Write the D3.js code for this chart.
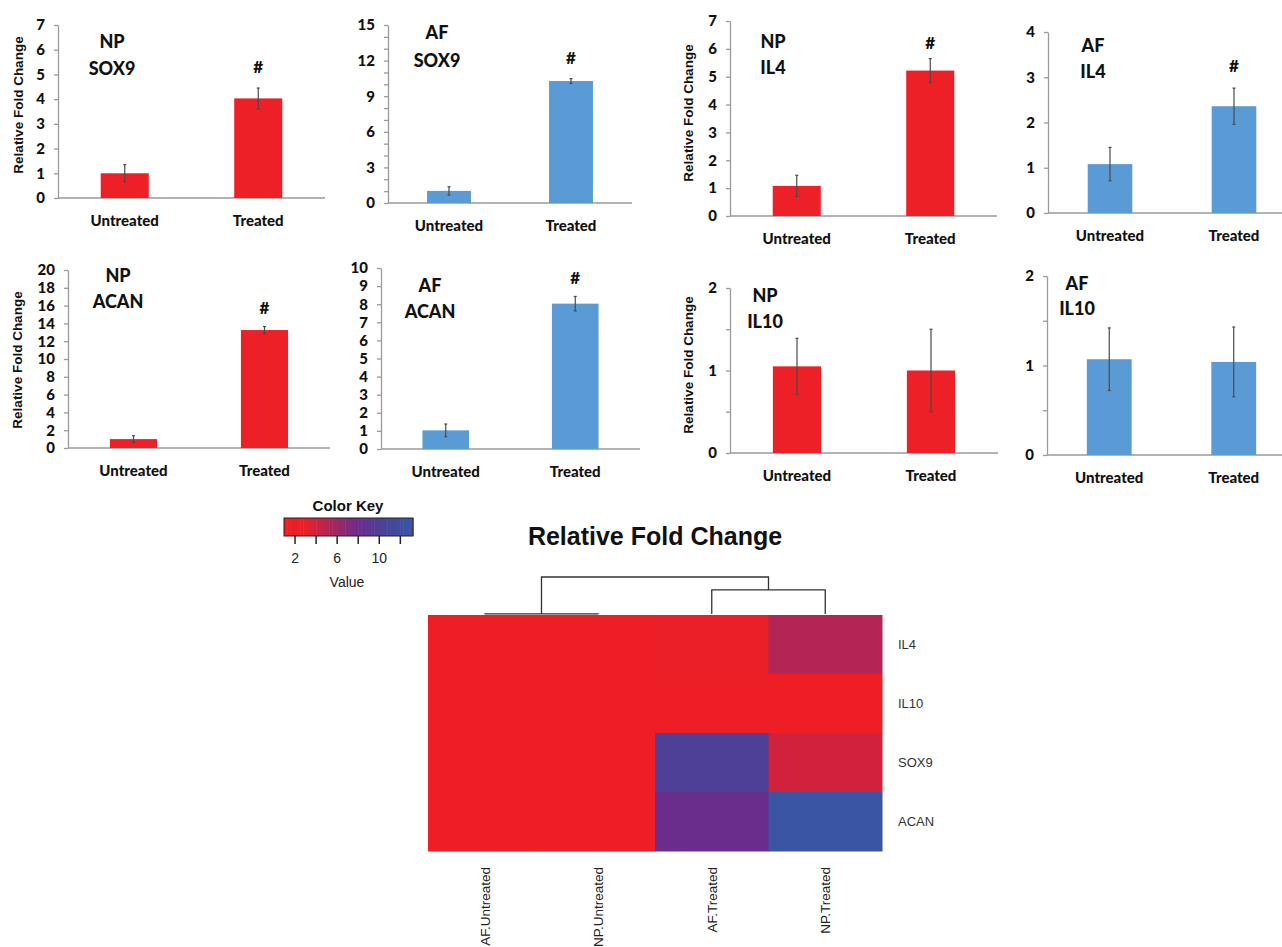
<!DOCTYPE html>
<html>
<head>
<meta charset="utf-8">
<script src="https://cdn.jsdelivr.net/npm/d3@7"></script>
<style>
  body { margin: 0; background: #fff; }
  svg { display: block; }
</style>
</head>
<body>
<div id="chart-area"></div>
<script>
// bar chart data
var conditions = ["Untreated", "Treated"];
var tissues = ["NP", "AF", "NP", "AF", "NP", "AF", "NP", "AF"];
var genes = ["SOX9", "SOX9", "IL4", "IL4", "ACAN", "ACAN", "IL10", "IL10"];
var meanFold = [[1.0, 4.03], [1.02, 10.28], [1.08, 5.22], [1.08, 2.36],
                [1.0, 13.25], [1.03, 8.03], [1.05, 1.0], [1.07, 1.04]];
var errFold = [[0.35, 0.42], [0.35, 0.2], [0.38, 0.43], [0.37, 0.4],
               [0.38, 0.4], [0.35, 0.4], [0.34, 0.5], [0.35, 0.39]];
var significant = [true, true, true, true, true, true, false, false];
var yMaxes = [7, 15, 7, 4, 20, 10, 2, 2];
var yTickSteps = [1, 1, 1, 1, 2, 1, 0.5, 0.5];
var yLabelSteps = [1, 3, 1, 1, 2, 1, 1, 1];

// heatmap data
var heatRows = ["IL4", "IL10", "SOX9", "ACAN"];
var heatCols = ["AF.Untreated", "NP.Untreated", "AF.Treated", "NP.Treated"];
var heatValues = [
  [1.08, 1.08, 2.36, 5.22],
  [1.07, 1.05, 1.04, 1.0],
  [1.02, 1.0, 10.28, 4.03],
  [1.03, 1.0, 8.03, 13.25]
];
var keyTicks = [2, 4, 6, 8, 10, 12];
var keyTickLabels = [2, 6, 10];

var barColors = { NP: "#ed1f27", AF: "#5b9bd5" };

// panel placement
var layout = [
  { x0: 58, x1: 325, y0: 25, y1: 198, ylabX: 18, ylabY: 105, tx: 112, ty: [48, 75], hy: 73 },
  { x0: 388, x1: 632, y0: 25, y1: 203, ylabX: null, tx: 437, ty: [39, 67], hy: 64 },
  { x0: 730, x1: 997, y0: 21, y1: 216, ylabX: 688, ylabY: 113, tx: 773, ty: [48, 74], hy: 49 },
  { x0: 1048, x1: 1296, y0: 32, y1: 213, ylabX: null, tx: 1093, ty: [52, 78], hy: 72 },
  { x0: 68, x1: 330, y0: 270, y1: 448, ylabX: 17, ylabY: 360, tx: 118, ty: [282, 308], hy: 314 },
  { x0: 381, x1: 640, y0: 268, y1: 449, ylabX: null, tx: 430, ty: [292, 318], hy: 284 },
  { x0: 730, x1: 998, y0: 288, y1: 453, ylabX: 688, ylabY: 365, tx: 765, ty: [302, 328], hy: null },
  { x0: 1047, x1: 1296, y0: 276, y1: 455, ylabX: null, tx: 1077, ty: [290, 315], hy: null }
];

var barFont = "Lato, 'Open Sans', sans-serif";
var arial = "'Liberation Sans', Arial, sans-serif";

var svg = d3.select("#chart-area")
  .append("svg")
  .attr("width", 1282)
  .attr("height", 947);

layout.forEach(function (L, p) {
  var g = svg.append("g");

  var x = d3.scaleBand()
    .domain(conditions)
    .range([L.x0, L.x1])
    .paddingInner(0.64)
    .paddingOuter(0.32);

  var y = d3.scaleLinear()
    .domain([0, yMaxes[p]])
    .range([L.y1, L.y0]);

  var tickVals = d3.range(0, yMaxes[p] + 1e-9, yTickSteps[p]);
  var yAxisCall = d3.axisLeft(y)
    .tickValues(tickVals)
    .tickSize(4)
    .tickSizeOuter(0)
    .tickPadding(9)
    .tickFormat(function (d) {
      var r = d / yLabelSteps[p];
      return Math.abs(r - Math.round(r)) < 1e-6 ? d : "";
    });

  var ya = g.append("g")
    .attr("transform", "translate(" + L.x0 + ",0)")
    .call(yAxisCall);
  ya.selectAll("path, line").attr("stroke", "#9a9a9a").attr("stroke-width", 1.3);
  ya.selectAll("text")
    .attr("font-family", barFont)
    .attr("font-weight", "900")
    .attr("font-size", "15px")
    .attr("fill", "#111");

  // x baseline
  g.append("line")
    .attr("x1", L.x0).attr("x2", L.x1)
    .attr("y1", L.y1).attr("y2", L.y1)
    .attr("stroke", "#9a9a9a")
    .attr("stroke-width", 1.3);

  var data = conditions.map(function (c, i) {
    return { cond: c, v: meanFold[p][i], e: errFold[p][i] };
  });

  g.selectAll("rect.bar")
    .data(data)
    .enter()
    .append("rect")
    .attr("class", "bar")
    .attr("x", function (d) { return x(d.cond); })
    .attr("y", function (d) { return y(d.v); })
    .attr("width", x.bandwidth())
    .attr("height", function (d) { return L.y1 - y(d.v); })
    .attr("fill", barColors[tissues[p]]);

  // error bars
  var eb = g.selectAll("g.err")
    .data(data)
    .enter()
    .append("g")
    .attr("class", "err")
    .attr("stroke", "#4a4a4a")
    .attr("stroke-width", 1.2);
  eb.append("line")
    .attr("x1", function (d) { return x(d.cond) + x.bandwidth() / 2; })
    .attr("x2", function (d) { return x(d.cond) + x.bandwidth() / 2; })
    .attr("y1", function (d) { return y(d.v + d.e); })
    .attr("y2", function (d) { return y(d.v - d.e); });
  eb.append("line")
    .attr("x1", function (d) { return x(d.cond) + x.bandwidth() / 2 - 1.5; })
    .attr("x2", function (d) { return x(d.cond) + x.bandwidth() / 2 + 1.5; })
    .attr("y1", function (d) { return y(d.v + d.e); })
    .attr("y2", function (d) { return y(d.v + d.e); });
  eb.append("line")
    .attr("x1", function (d) { return x(d.cond) + x.bandwidth() / 2 - 1.5; })
    .attr("x2", function (d) { return x(d.cond) + x.bandwidth() / 2 + 1.5; })
    .attr("y1", function (d) { return y(d.v - d.e); })
    .attr("y2", function (d) { return y(d.v - d.e); });

  // category labels
  g.selectAll("text.cat")
    .data(conditions)
    .enter()
    .append("text")
    .attr("class", "cat")
    .attr("x", function (d) { return x(d) + x.bandwidth() / 2; })
    .attr("y", L.y1 + 28)
    .attr("text-anchor", "middle")
    .attr("font-family", barFont)
    .attr("font-weight", "900")
    .attr("font-size", "15px")
    .attr("fill", "#111")
    .text(function (d) { return d; });

  // panel title
  [tissues[p], genes[p]].forEach(function (t, i) {
    g.append("text")
      .attr("x", L.tx)
      .attr("y", L.ty[i])
      .attr("text-anchor", "middle")
      .attr("font-family", barFont)
      .attr("font-weight", "900")
      .attr("font-size", "18px")
      .attr("fill", "#111")
      .text(t);
  });

  if (significant[p]) {
    g.append("text")
      .attr("x", x("Treated") + x.bandwidth() / 2)
      .attr("y", L.hy)
      .attr("text-anchor", "middle")
      .attr("font-family", barFont)
      .attr("font-weight", "900")
      .attr("font-size", "17px")
      .attr("fill", "#111")
      .text("#");
  }

  if (L.ylabX !== null) {
    g.append("text")
      .attr("transform", "translate(" + L.ylabX + "," + L.ylabY + ") rotate(-90)")
      .attr("text-anchor", "middle")
      .attr("dy", "0.35em")
      .attr("font-family", arial)
      .attr("font-weight", "bold")
      .attr("font-size", "13.5px")
      .attr("fill", "#111")
      .text("Relative Fold Change");
  }
});

// ---------- heatmap ----------
var hm = { left: 428, right: 882, top: 615, bottom: 851 };

var flat = [];
heatValues.forEach(function (row, r) {
  row.forEach(function (v, c) {
    flat.push({ row: heatRows[r], col: heatCols[c], v: v });
  });
});
var ext = d3.extent(flat, function (d) { return d.v; });

var color = d3.scaleLinear()
  .domain([1, 3, 8, 11, 13.25])
  .range(["#ed1f25", "#ea1f28", "#6b2d8c", "#45469b", "#3b55a5"])
  .clamp(true);

var hx = d3.scaleBand().domain(heatCols).range([hm.left, hm.right]);
var hy = d3.scaleBand().domain(heatRows).range([hm.top, hm.bottom]);

svg.append("g")
  .selectAll("rect")
  .data(flat)
  .enter()
  .append("rect")
  .attr("x", function (d) { return hx(d.col); })
  .attr("y", function (d) { return hy(d.row); })
  .attr("width", hx.bandwidth() + 0.5)
  .attr("height", hy.bandwidth() + 0.5)
  .attr("fill", function (d) { return color(d.v); });

// row labels
svg.append("g")
  .selectAll("text")
  .data(heatRows)
  .enter()
  .append("text")
  .attr("x", hm.right + 16)
  .attr("y", function (d) { return hy(d) + hy.bandwidth() / 2; })
  .attr("dy", "0.35em")
  .attr("font-family", arial)
  .attr("font-size", "13px")
  .attr("fill", "#333")
  .text(function (d) { return d; });

// column labels
svg.append("g")
  .selectAll("text")
  .data(heatCols)
  .enter()
  .append("text")
  .attr("transform", function (d) {
    return "translate(" + (hx(d) + hx.bandwidth() / 2 + 5) + "," + 867 + ") rotate(-90)";
  })
  .attr("text-anchor", "end")
  .attr("font-family", arial)
  .attr("font-size", "13.5px")
  .attr("fill", "#222")
  .text(function (d) { return d; });

// title
svg.append("text")
  .attr("x", 655)
  .attr("y", 545)
  .attr("text-anchor", "middle")
  .attr("font-family", arial)
  .attr("font-weight", "bold")
  .attr("font-size", "25px")
  .attr("fill", "#111")
  .text("Relative Fold Change");

// column dendrogram (complete linkage, euclidean)
function dist(a, b) {
  var s = 0;
  heatRows.forEach(function (r, i) {
    s += Math.pow(heatValues[i][a] - heatValues[i][b], 2);
  });
  return Math.sqrt(s);
}
var clusters = heatCols.map(function (c, i) {
  return { members: [i], h: 0, x: hx(c) + hx.bandwidth() / 2 };
});
var merges = [];
while (clusters.length > 1) {
  var best = null;
  for (var i = 0; i < clusters.length; i++) {
    for (var j = i + 1; j < clusters.length; j++) {
      var dmax = 0;
      clusters[i].members.forEach(function (a) {
        clusters[j].members.forEach(function (b) {
          dmax = Math.max(dmax, dist(a, b));
        });
      });
      if (!best || dmax < best.d) best = { i: i, j: j, d: dmax };
    }
  }
  var A = clusters[best.i], B = clusters[best.j];
  var M = { members: A.members.concat(B.members), h: best.d, x: (A.x + B.x) / 2 };
  merges.push({ a: A, b: B, m: M });
  clusters = clusters.filter(function (c, k) { return k !== best.i && k !== best.j; });
  clusters.push(M);
}
var dh = d3.scaleLinear()
  .domain([0, d3.max(merges, function (d) { return d.m.h; })])
  .range([hm.top - 1, hm.top - 38]);
var dendro = svg.append("g")
  .attr("fill", "none")
  .attr("stroke", "#333")
  .attr("stroke-width", 1.3);
merges.forEach(function (d) {
  dendro.append("path")
    .attr("d", "M" + d.a.x + "," + dh(d.a.h) +
      "V" + dh(d.m.h) + "H" + d.b.x + "V" + dh(d.b.h));
});

// color key
var key = { left: 284, right: 413, top: 518, bottom: 536 };
var kx = d3.scaleLinear().domain(ext).range([key.left, key.right]);
var keySteps = d3.range(0, 40);
svg.append("g")
  .selectAll("rect")
  .data(keySteps)
  .enter()
  .append("rect")
  .attr("x", function (d) { return kx(ext[0] + (ext[1] - ext[0]) * d / 40); })
  .attr("y", key.top)
  .attr("width", (key.right - key.left) / 40 + 0.5)
  .attr("height", key.bottom - key.top)
  .attr("fill", function (d) { return color(ext[0] + (ext[1] - ext[0]) * (d + 0.5) / 40); });
svg.append("rect")
  .attr("x", key.left).attr("y", key.top)
  .attr("width", key.right - key.left)
  .attr("height", key.bottom - key.top)
  .attr("fill", "none")
  .attr("stroke", "#222")
  .attr("stroke-width", 1);

var keyAxis = d3.axisBottom(kx)
  .tickValues(keyTicks)
  .tickSize(8)
  .tickSizeOuter(0)
  .tickPadding(9)
  .tickFormat(function (d) { return keyTickLabels.indexOf(d) >= 0 ? d : ""; });
var ka = svg.append("g")
  .attr("transform", "translate(0," + key.bottom + ")")
  .call(keyAxis);
ka.select(".domain").remove();
ka.selectAll("line").attr("stroke", "#222").attr("stroke-width", 1.5);
ka.selectAll("text")
  .attr("font-family", arial)
  .attr("font-size", "14px")
  .attr("fill", "#222");

svg.append("text")
  .attr("x", 348).attr("y", 511)
  .attr("text-anchor", "middle")
  .attr("font-family", arial)
  .attr("font-weight", "bold")
  .attr("font-size", "15px")
  .attr("fill", "#111")
  .text("Color Key");
svg.append("text")
  .attr("x", 347).attr("y", 587)
  .attr("text-anchor", "middle")
  .attr("font-family", arial)
  .attr("font-size", "14px")
  .attr("fill", "#222")
  .text("Value");
</script>
</body>
</html>
